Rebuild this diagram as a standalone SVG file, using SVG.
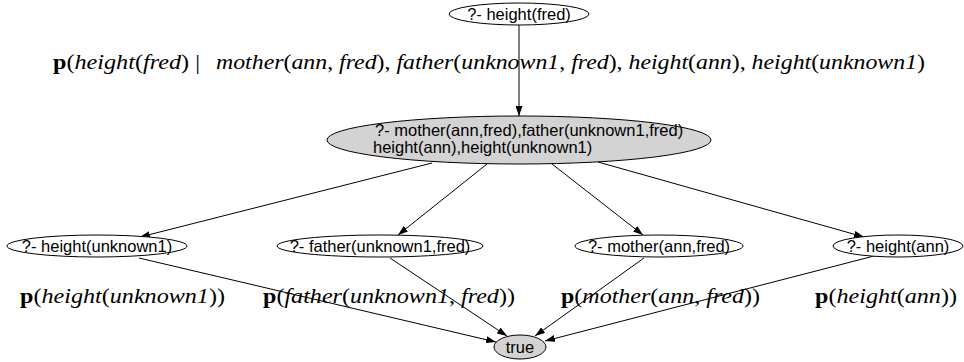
<svg xmlns="http://www.w3.org/2000/svg" width="964" height="362" viewBox="0 0 964 362">
<style>
.node ellipse{stroke:#000;stroke-width:1}
.plain{fill:#fff}
.grey{fill:#d3d3d3}
.nl{font-family:"Liberation Sans",Arial,sans-serif;font-size:16.5px;fill:#000}
.c{text-anchor:middle}
.edge line{stroke:#000;stroke-width:1;fill:none;marker-end:url(#ah)}
.m{font-family:"Liberation Serif","Times New Roman",serif;font-size:21px;fill:#000}
.i{font-style:italic}
.b{font-weight:bold}
</style>
<defs>
<marker id="ah" viewBox="0 0 10 7" refX="10" refY="3.5" markerWidth="10" markerHeight="7" markerUnits="userSpaceOnUse" orient="auto"><path d="M0,0 L10,3.5 L0,7 z" fill="#000"/></marker>
</defs>
<g id="edges" class="edge">
<line x1="519" y1="25" x2="519" y2="116"/>
<line x1="432" y1="163" x2="140" y2="237"/>
<line x1="487" y1="164" x2="398" y2="235"/>
<line x1="552" y1="164" x2="643" y2="235"/>
<line x1="598" y1="162" x2="864" y2="237"/>
<line x1="139" y1="258" x2="496" y2="342"/>
<line x1="390" y1="258" x2="507" y2="336"/>
<line x1="644" y1="258" x2="535" y2="336"/>
<line x1="874" y1="256" x2="545" y2="341"/>
</g>
<g id="n_top" class="node">
<ellipse class="plain" cx="519" cy="14" rx="70" ry="11"/>
<text class="nl c" x="519" y="20">?- height(fred)</text>
</g>
<g id="n_mid" class="node">
<ellipse class="grey" cx="519" cy="140" rx="192" ry="24"/>
<text class="nl" x="375" y="136">?- mother(ann,fred),father(unknown1,fred)</text>
<text class="nl" x="373" y="153">height(ann),height(unknown1)</text>
</g>
<g id="n_hu" class="node">
<ellipse class="plain" cx="97" cy="246" rx="90" ry="11"/>
<text class="nl c" x="97" y="252">?- height(unknown1)</text>
</g>
<g id="n_fa" class="node">
<ellipse class="plain" cx="380" cy="246" rx="103" ry="11"/>
<text class="nl c" x="380" y="252">?- father(unknown1,fred)</text>
</g>
<g id="n_mo" class="node">
<ellipse class="plain" cx="659" cy="246" rx="84" ry="11"/>
<text class="nl c" x="659" y="252">?- mother(ann,fred)</text>
</g>
<g id="n_ha" class="node">
<ellipse class="plain" cx="898" cy="246" rx="65" ry="11"/>
<text class="nl c" x="898" y="252">?- height(ann)</text>
</g>
<g id="n_true" class="node">
<ellipse class="grey" cx="520" cy="347" rx="26" ry="12"/>
<text class="nl c" x="520" y="353">true</text>
</g>
<g id="labels">
<text class="m" x="53" y="69" textLength="147" lengthAdjust="spacingAndGlyphs"><tspan class="b">p</tspan>(<tspan class="i">height</tspan>(<tspan class="i">fred</tspan>) |</text>
<text class="m" x="216" y="69" textLength="709" lengthAdjust="spacingAndGlyphs"><tspan class="i">mother</tspan>(<tspan class="i">ann</tspan>, <tspan class="i">fred</tspan>), <tspan class="i">father</tspan>(<tspan class="i">unknown1</tspan>, <tspan class="i">fred</tspan>), <tspan class="i">height</tspan>(<tspan class="i">ann</tspan>), <tspan class="i">height</tspan>(<tspan class="i">unknown1</tspan>)</text>
<text class="m" x="20" y="303" textLength="205" lengthAdjust="spacingAndGlyphs"><tspan class="b">p</tspan>(<tspan class="i">height</tspan>(<tspan class="i">unknown1</tspan>))</text>
<text class="m" x="263" y="303" textLength="252" lengthAdjust="spacingAndGlyphs"><tspan class="b">p</tspan>(<tspan class="i">father</tspan>(<tspan class="i">unknown1</tspan>, <tspan class="i">fred</tspan>))</text>
<text class="m" x="561" y="303" textLength="199" lengthAdjust="spacingAndGlyphs"><tspan class="b">p</tspan>(<tspan class="i">mother</tspan>(<tspan class="i">ann</tspan>, <tspan class="i">fred</tspan>))</text>
<text class="m" x="815" y="303" textLength="142" lengthAdjust="spacingAndGlyphs"><tspan class="b">p</tspan>(<tspan class="i">height</tspan>(<tspan class="i">ann</tspan>))</text>
</g>
</svg>
